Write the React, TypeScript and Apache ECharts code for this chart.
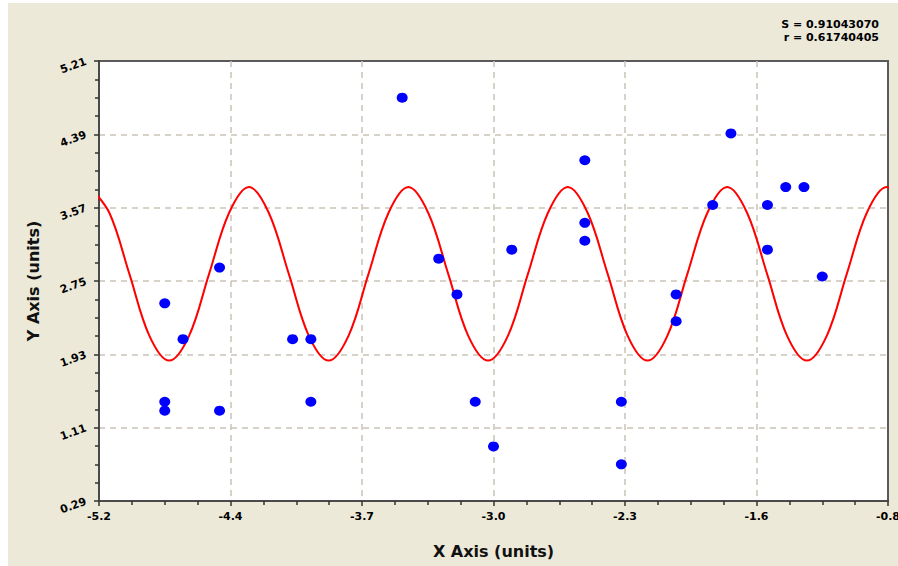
import React, { useEffect, useRef } from "react";
import * as echarts from "echarts";

// Observed data points
const pointX = [-4.8, -4.8, -4.8, -4.7, -4.5, -4.5, -4.1, -4.0, -4.0, -3.5, -3.3, -3.2, -3.1, -3.0, -2.9, -2.5, -2.5, -2.5, -2.3, -2.3, -2.0, -2.0, -1.8, -1.7, -1.5, -1.5, -1.4, -1.3, -1.2];
const pointY = [2.5, 1.4, 1.3, 2.1, 2.9, 1.3, 2.1, 2.1, 1.4, 4.8, 3.0, 2.6, 1.4, 0.9, 3.1, 4.1, 3.4, 3.2, 1.4, 0.7, 2.6, 2.3, 3.6, 4.4, 3.6, 3.1, 3.8, 3.8, 2.8];

// Fitted curve
const curveX = [-5.2119, -5.1028, -4.9937, -4.8846, -4.7755, -4.6663, -4.5572, -4.4481, -4.339, -4.2299, -4.1208, -4.0117, -3.9026, -3.7934, -3.6843, -3.5752, -3.4661, -3.357, -3.2479, -3.1388, -3.0297, -2.9205, -2.8114, -2.7023, -2.5932, -2.4841, -2.375, -2.2659, -2.1568, -2.0476, -1.9385, -1.8294, -1.7203, -1.6112, -1.5021, -1.393, -1.2839, -1.1747, -1.0656, -0.9565, -0.8474, -0.7383];
const curveY = [3.8, 3.51, 2.83, 2.14, 1.86, 2.14, 2.83, 3.51, 3.8, 3.51, 2.83, 2.14, 1.86, 2.14, 2.83, 3.51, 3.8, 3.51, 2.83, 2.14, 1.86, 2.14, 2.83, 3.51, 3.8, 3.51, 2.83, 2.14, 1.86, 2.14, 2.83, 3.51, 3.8, 3.51, 2.83, 2.14, 1.86, 2.14, 2.83, 3.51, 3.8, 3.51];

// Axis setup
const xMin = -5.16;
const xMax = -0.84;
const xStep = 0.72;
const yMin = 0.29;
const yMax = 5.21;
const yStep = 0.82;

const statLines = ["S = 0.91043070", "r = 0.61740405"];

const FONT = "'DejaVu Sans', Verdana, sans-serif";

export default function App() {
  const ref = useRef<HTMLDivElement>(null);

  useEffect(() => {
    if (!ref.current) return;
    const chart = echarts.init(ref.current, null, { renderer: "svg" });
    const tickLine = { color: "#333", width: 1.5 };
    const splitLine = {
      show: true,
      showMinLine: false,
      showMaxLine: false,
      lineStyle: { type: [6, 5], color: "#c9c3b5", width: 1.5 },
    };
    const labelStyle = { fontFamily: FONT, fontWeight: "bold" as const, fontSize: 11, color: "#000" };
    const nameStyle = { fontFamily: FONT, fontWeight: "bold" as const, fontSize: 16, color: "#111" };

    chart.setOption({
      animation: false,
      backgroundColor: "#ECE9D8",
      grid: {
        left: 91,
        top: 58,
        right: 10,
        bottom: 65,
        outerBoundsMode: "none",
        containLabel: false,
        show: true,
        backgroundColor: "#ffffff",
        borderColor: "#5a5a5a",
        borderWidth: 2,
      },
      xAxis: {
        type: "value",
        min: xMin,
        max: xMax,
        interval: xStep,
        name: "X Axis (units)",
        nameLocation: "middle",
        nameGap: 42,
        nameTextStyle: nameStyle,
        axisLine: { show: true, onZero: false, lineStyle: { color: "#4a4a4a", width: 2 } },
        axisTick: { show: true, length: 5, lineStyle: tickLine },
        minorTick: { show: true, splitNumber: 4, length: 4, lineStyle: tickLine },
        splitLine,
        axisLabel: { ...labelStyle, margin: 10, hideOverlap: false, formatter: (v: number) => v.toFixed(1) },
      },
      yAxis: {
        type: "value",
        min: yMin,
        max: yMax,
        interval: yStep,
        name: "Y Axis (units)",
        nameLocation: "middle",
        nameGap: 58,
        nameTextStyle: nameStyle,
        axisLine: { show: true, onZero: false, lineStyle: { color: "#4a4a4a", width: 2 } },
        axisTick: { show: true, length: 5, lineStyle: tickLine },
        minorTick: { show: true, splitNumber: 4, length: 4, lineStyle: tickLine },
        splitLine,
        axisLabel: { ...labelStyle, margin: 13, rotate: 20, formatter: (v: number) => v.toFixed(2) },
      },
      graphic: statLines.map((t, i) => ({
        type: "text",
        right: 19,
        top: 16 + i * 13,
        style: {
          text: t,
          font: `bold 11px ${FONT}`,
          fill: "#000",
          textAlign: "right",
        },
      })),
      series: [
        {
          type: "line",
          data: curveX.map((x, i) => [x, curveY[i]]),
          smooth: 0.35,
          showSymbol: false,
          clip: true,
          lineStyle: { color: "#ff0000", width: 2 },
          z: 2,
        },
        {
          type: "scatter",
          data: pointX.map((x, i) => [x, pointY[i]]),
          symbol: "circle",
          symbolSize: [11, 10],
          itemStyle: { color: "#0000ff", opacity: 1 },
          z: 3,
        },
      ],
    });
    return () => chart.dispose();
  }, []);

  return (
    <div style={{ position: "absolute", left: 0, top: 0, width: 898, height: 566, background: "#ffffff" }}>
      <div ref={ref} style={{ position: "absolute", left: 8, top: 3, width: 890, height: 563 }} />
    </div>
  );
}
